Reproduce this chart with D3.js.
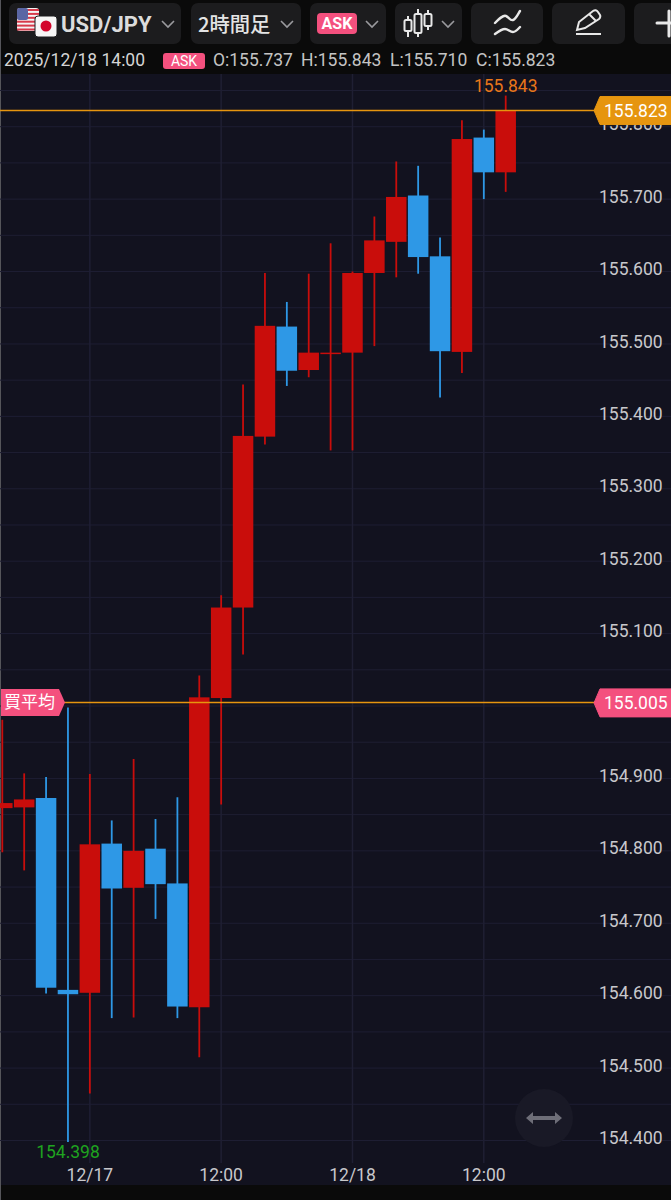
<!DOCTYPE html>
<html>
<head>
<meta charset="utf-8">
<script src="https://cdn.jsdelivr.net/npm/d3@7"></script>
<style>
html, body { margin:0; padding:0; background:#0a0a0a; }
svg { display:block; font-family:Roboto, sans-serif; }
</style>
</head>
<body>
<div id="chart-area"></div>
<script>
const times = ['12/16 16','12/16 18','12/16 20','12/16 22','12/17 00','12/17 02','12/17 04','12/17 06',
  '12/17 08','12/17 10','12/17 12','12/17 14','12/17 16','12/17 18','12/17 20','12/17 22',
  '12/18 00','12/18 02','12/18 04','12/18 06','12/18 08','12/18 10','12/18 12','12/18 14'];
const opens  = [154.859,154.860,154.873,154.608,154.604,154.810,154.749,154.803,154.755,154.584,155.011,155.136,155.372,155.524,155.464,155.486,155.488,155.598,155.641,155.705,155.621,155.489,155.785,155.737];
const highs  = [154.981,154.907,154.902,154.998,154.906,154.842,154.927,154.844,154.874,155.042,155.153,155.444,155.598,155.558,155.597,155.639,155.600,155.676,155.752,155.746,155.647,155.809,155.796,155.843];
const lows   = [154.798,154.773,154.603,154.398,154.465,154.569,154.570,154.706,154.569,154.515,154.864,155.071,155.361,155.442,155.454,155.353,155.353,155.497,155.592,155.597,155.426,155.460,155.700,155.710];
const closes = [154.866,154.871,154.611,154.602,154.809,154.748,154.800,154.754,154.585,155.012,155.136,155.373,155.525,155.463,155.488,155.488,155.598,155.643,155.703,155.620,155.490,155.783,155.737,155.823];

const priceTicks = [154.4,154.5,154.6,154.7,154.8,154.9,155.1,155.2,155.3,155.4,155.5,155.6,155.7,155.8];
const gridPrices = d3.range(0,30).map(i => 154.4 + i*0.05);
const timeTicks = ['12/17 00','12/17 12','12/18 00','12/18 12'];
const timeLabels = ['12/17','12:00','12/18','12:00'];

const lastPrice = 155.823;
const avgPrice = 155.005;

const width = 671, height = 1200;
const chartTop = 74, chartBottom = 1185;

const bg = '#12121f', red = '#c90d0b', blue = '#2e98e6';
const orange = '#e6950f', pink = '#f4507e', labelColor = '#c8c8cc';

const svg = d3.select('#chart-area').append('svg').attr('width', width).attr('height', height);

svg.append('rect').attr('width', width).attr('height', height).attr('fill', '#0a0a0a');
svg.append('rect').attr('x', 1).attr('y', chartTop).attr('width', width-1).attr('height', chartBottom-chartTop).attr('fill', bg);
svg.append('rect').attr('width', 1).attr('height', height).attr('fill', '#55555a');

const x = d3.scalePoint().domain(times).range([2.3, 505.7]);
const y = d3.scaleLinear().domain([154.4, 155.85]).range([1140.5, 90.5]);
const bodyW = 20.5;

// grid
const gridG = svg.append('g').call(d3.axisRight(y).offset(0).tickValues(gridPrices).tickSize(width).tickFormat(''));
gridG.select('.domain').remove();
gridG.selectAll('line').attr('stroke', '#1e1e33').attr('stroke-width', 1);

const xAxis = svg.append('g').attr('transform', 'translate(0,1163)')
  .call(d3.axisBottom(x).offset(0).tickValues(timeTicks).tickSize(chartTop-1163).tickFormat((d,i) => timeLabels[i]));
xAxis.select('.domain').remove();
xAxis.selectAll('line').attr('stroke', '#1f1f33').attr('stroke-width', 1.5);
xAxis.selectAll('text').attr('y', 5.5).attr('dy', '0.71em').attr('fill', labelColor).attr('font-size', 17.5).attr('font-family', 'Roboto');

const yAxis = svg.append('g').attr('transform', 'translate(599,-2.5)')
  .call(d3.axisRight(y).tickValues(priceTicks).tickSize(0).tickPadding(0).tickFormat(d3.format('.3f')));
yAxis.select('.domain').remove();
yAxis.selectAll('text').attr('fill', labelColor).attr('font-size', 17.5).attr('font-family', 'Roboto');

// candles
const idx = d3.range(times.length);
const isUp = i => closes[i] >= opens[i];
const candle = svg.append('g');
candle.selectAll('.wick').data(idx).enter().append('line').attr('class', 'wick')
  .attr('x1', i => x(times[i])).attr('x2', i => x(times[i]))
  .attr('y1', i => y(highs[i])).attr('y2', i => y(lows[i]))
  .attr('stroke', i => isUp(i) ? red : blue).attr('stroke-width', 1.8);
candle.selectAll('.body').data(idx).enter().append('rect').attr('class', 'body')
  .attr('x', i => x(times[i]) - bodyW/2).attr('width', bodyW)
  .attr('y', i => y(Math.max(opens[i], closes[i])))
  .attr('height', i => Math.max(1.5, Math.abs(y(opens[i]) - y(closes[i]))))
  .attr('fill', i => isUp(i) ? red : blue);

// high / low marks
svg.append('text').attr('x', x(times[23])).attr('y', 92).attr('text-anchor', 'middle')
  .attr('fill', '#e8761a').attr('font-size', 17.5).text(d3.max(highs).toFixed(3));
svg.append('text').attr('x', x(times[3])).attr('y', 1158).attr('text-anchor', 'middle')
  .attr('fill', '#1fa31f').attr('font-size', 17.5).text(d3.min(lows).toFixed(3));

// price lines
svg.append('line').attr('x1', 0).attr('x2', 600).attr('y1', y(lastPrice)+0.5).attr('y2', y(lastPrice)+0.5).attr('stroke', orange).attr('stroke-width', 1.5);
svg.append('line').attr('x1', 64).attr('x2', 600).attr('y1', y(avgPrice)).attr('y2', y(avgPrice)).attr('stroke', orange).attr('stroke-width', 1.5);

function priceTag(value, fill) {
  const c = y(value) + 0.5;
  svg.append('path').attr('d', `M594,${c} l6,-14 h71 v28 h-71 z`).attr('fill', fill).attr('stroke', fill).attr('stroke-linejoin', 'round');
  svg.append('text').attr('x', 604).attr('y', c + 6).attr('fill', '#fff').attr('font-size', 17.5).text(value.toFixed(3));
}
priceTag(lastPrice, orange);
priceTag(avgPrice, pink);

const avgY = y(avgPrice);
svg.append('path').attr('d', `M1,${avgY-13.5} h58 l6,13.5 l-6,13.5 h-58 z`).attr('fill', pink);
svg.append('text').attr('x', 4).attr('y', avgY+6).attr('fill', '#fff').attr('font-size', 17)
  .attr('font-family', 'Noto Sans CJK JP').text('買平均');

// arrow button
svg.append('circle').attr('cx', 544).attr('cy', 1118).attr('r', 29).attr('fill', '#191926');
svg.append('path').attr('d', 'M526,1118 l7,-6 v4 h22 v-4 l7,6 l-7,6 v-4 h-22 v4 z').attr('fill', '#6e6e78');

// toolbar
const buttons = [[9,172],[191,110],[310,76],[395,67],[471,72],[552,73],[634,60]];
svg.selectAll('.btn').data(buttons).enter().append('rect').attr('class', 'btn')
  .attr('x', d => d[0]).attr('y', 3).attr('width', d => d[1]).attr('height', 41).attr('rx', 7).attr('fill', '#1c1c1e');

const textOpts = (sel, col, size, weight) => sel.attr('fill', col).attr('font-size', size).attr('font-weight', weight || 400);
textOpts(svg.append('text').attr('x', 61).attr('y', 32).text('USD/JPY'), '#dcdcdc', 22, 700);
textOpts(svg.append('text').attr('x', 198).attr('y', 32).attr('font-family', 'Noto Sans CJK JP').text('2時間足'), '#e4e4e4', 20.3, 500);

[[168,24],[287,24],[372,24],[448,24]].forEach(d => {
  svg.append('path').attr('d', `M${d[0]-6},${d[1]-3} l6,6 l6,-6`).attr('fill', 'none').attr('stroke', '#9a9a9e').attr('stroke-width', 1.6);
});

// ask pill
svg.append('rect').attr('x', 317).attr('y', 13).attr('width', 40).attr('height', 21).attr('rx', 4).attr('fill', pink);
textOpts(svg.append('text').attr('x', 337).attr('y', 29).attr('text-anchor', 'middle').text('ASK'), '#fff', 16, 700);

// flags
const flag = svg.append('g');
flag.append('rect').attr('x', 17).attr('y', 8).attr('width', 22).attr('height', 23).attr('rx', 3).attr('fill', '#f4f4f4');
d3.range(0,6).forEach(i => flag.append('rect').attr('x', 17).attr('y', 9 + i*3.9).attr('width', 22).attr('height', 2).attr('fill', '#d8394a'));
flag.append('rect').attr('x', 17).attr('y', 8).attr('width', 11).attr('height', 12).attr('rx', 2).attr('fill', '#5a66a4');
flag.append('rect').attr('x', 35).attr('y', 16).attr('width', 22).attr('height', 21).attr('rx', 3).attr('fill', '#f6f6f6').attr('stroke', '#1c1c1e').attr('stroke-width', 1);
flag.append('circle').attr('cx', 46).attr('cy', 26).attr('r', 5.5).attr('fill', '#d3062c');

// candle icon
const icon = svg.append('g').attr('stroke', '#e8e8e8').attr('stroke-width', 2).attr('fill', 'none');
[[408,20,31,16,37],[418,14,33,9,37],[428,14,26,10,30]].forEach(d => {
  icon.append('rect').attr('x', d[0]-3.5).attr('y', d[1]).attr('width', 7).attr('height', d[2]-d[1]).attr('rx', 1.5);
  icon.append('line').attr('x1', d[0]).attr('x2', d[0]).attr('y1', d[3]).attr('y2', d[1]);
  icon.append('line').attr('x1', d[0]).attr('x2', d[0]).attr('y1', d[2]).attr('y2', d[4]);
});
// line icon
const lineIcon = svg.append('g').attr('stroke', '#e8e8e8').attr('stroke-width', 2.4).attr('fill', 'none').attr('stroke-linecap', 'round');
lineIcon.append('path').attr('d', 'M495,23 C500,18 503,15 506,16 C509,17 510,21 513,20 C516,19 518,14 520,11');
lineIcon.append('path').attr('d', 'M495,34 C499,31 502,29 505,29 C508,29 510,32 513,32 C516,32 518,29 520,27');
// pencil icon
svg.append('path').attr('d', 'M577,30 L579,22 L593,11 Q596,9 598,12 L600,15 Q601,17 599,19 L585,28 Z M589,14 L596,21').attr('fill', 'none').attr('stroke', '#e8e8e8').attr('stroke-width', 2);
svg.append('line').attr('x1', 576).attr('x2', 601).attr('y1', 34).attr('y2', 34).attr('stroke', '#e8e8e8').attr('stroke-width', 2);
// cross icon
svg.append('path').attr('d', 'M657,23 H671 M669,11 V36').attr('stroke', '#e8e8e8').attr('stroke-width', 3).attr('fill', 'none').attr('stroke-linecap', 'round');

// info row
const infoY = 66;
textOpts(svg.append('text').attr('x', 4).attr('y', infoY).text('2025/12/18 14:00'), '#d4d4d4', 17.5);
svg.append('rect').attr('x', 163).attr('y', 53).attr('width', 42).attr('height', 16).attr('rx', 3).attr('fill', pink);
textOpts(svg.append('text').attr('x', 184).attr('y', 66).attr('text-anchor', 'middle').text('ASK'), '#fff', 14);
const ohlcText = [[213,'O:'+opens[23].toFixed(3)],[301,'H:'+highs[23].toFixed(3)],[390,'L:'+lows[23].toFixed(3)],[476,'C:'+closes[23].toFixed(3)]];
ohlcText.forEach(d => textOpts(svg.append('text').attr('x', d[0]).attr('y', infoY).text(d[1]), '#c4c4c4', 17.5));
</script>
</body>
</html>
